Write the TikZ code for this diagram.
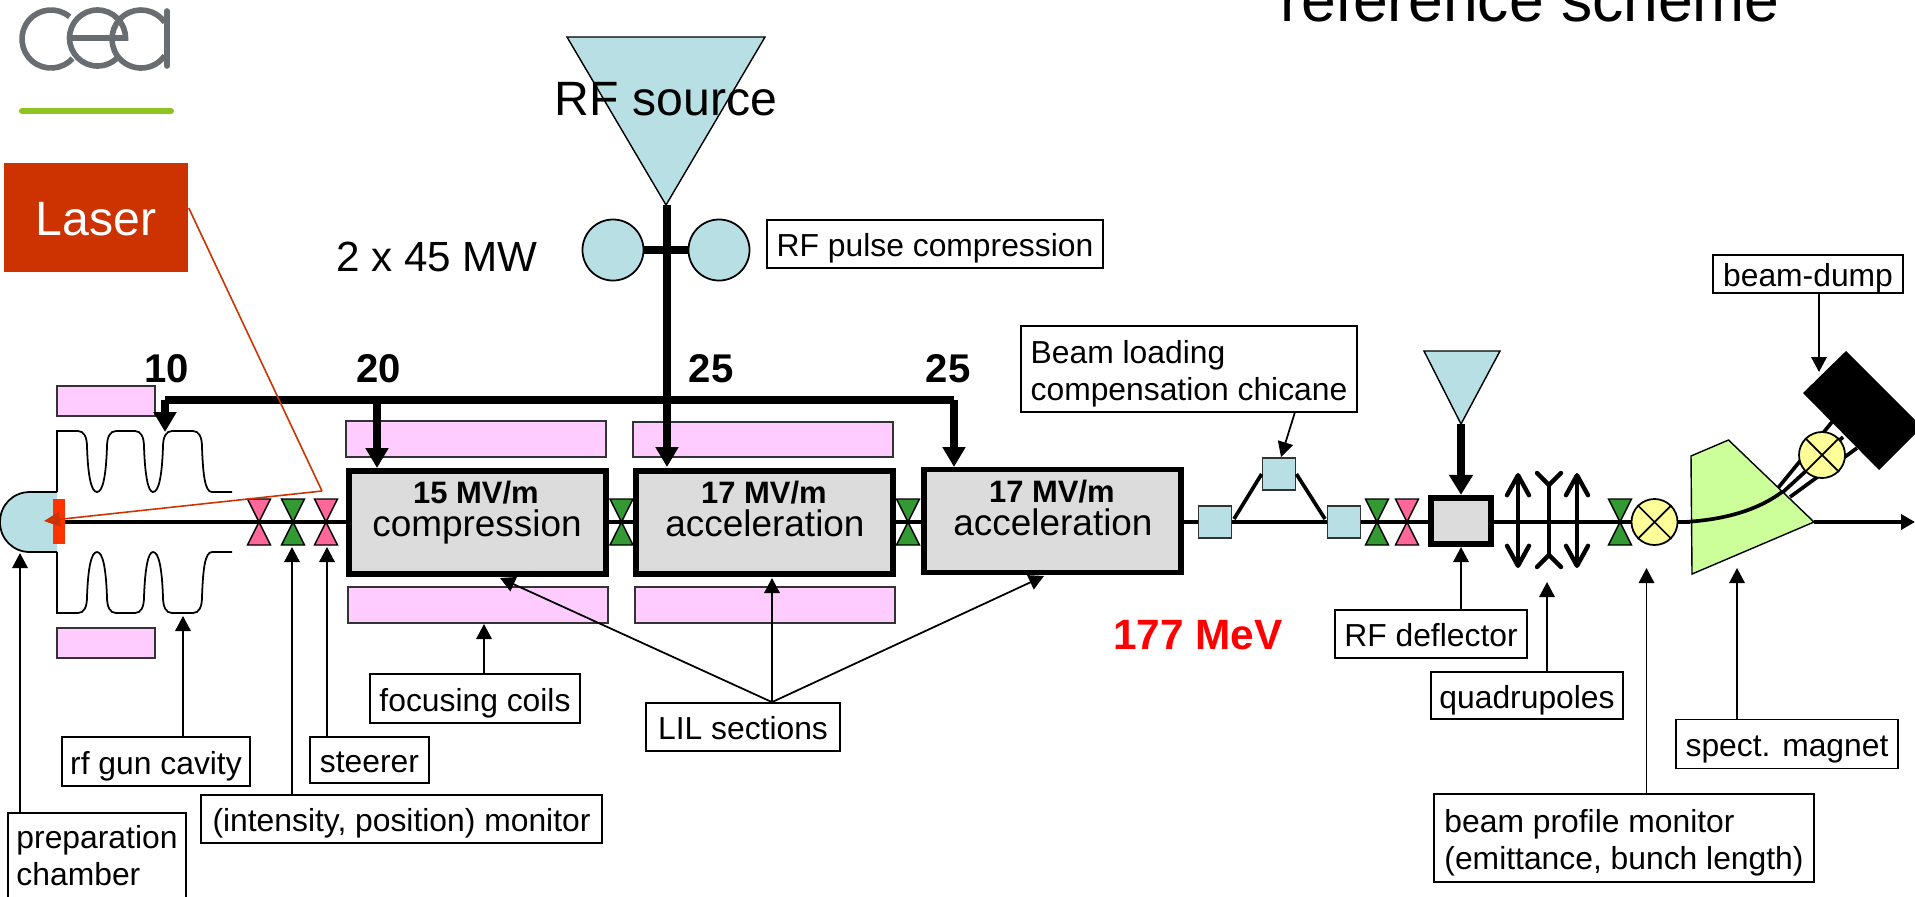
\documentclass[tikz,border=0pt]{standalone}
\usepackage{fontspec}
\setmainfont{Liberation Sans}
\usepackage{tikz}
\usetikzlibrary{arrows.meta}
\definecolor{laserred}{HTML}{CC3300}
\definecolor{cathodered}{HTML}{FF3300}
\definecolor{rfblue}{HTML}{B8DFE3}
\definecolor{coilpink}{HTML}{FFCCFF}
\definecolor{sectiongrey}{HTML}{DCDCDC}
\definecolor{gatepink}{HTML}{FF6699}
\definecolor{gategreen}{HTML}{339933}
\definecolor{magnetgreen}{HTML}{CCFF99}
\definecolor{monitoryellow}{HTML}{FFFF99}
\definecolor{logogrey}{HTML}{686D72}
\definecolor{logogreen}{HTML}{8FC31F}
\tikzset{
	pics/gate/.style={code={\path[draw=black,line width=.4pt,fill=#1] (-11.5,-23) -- (11.5,-23) -- (-11.5,23) -- (11.5,23) -- cycle;}},
	pics/cavitywall/.style={code={\draw[line width=.5pt] (57,-30) -- (57,-91) -- (78,-91)
		.. controls (84,-91) and (87,-85) .. (87,-75) .. controls (88,-47) and (91,-30) .. (97,-30)
		.. controls (103,-30) and (106,-47) .. (107,-75) .. controls (107,-85) and (110,-91) .. (116,-91) -- (135,-91)
		.. controls (141,-91) and (144,-85) .. (144,-75) .. controls (145,-47) and (148,-30) .. (153,-30)
		.. controls (159,-30) and (162,-47) .. (163,-75) .. controls (163,-85) and (166,-91) .. (172,-91) -- (193,-91)
		.. controls (199,-91) and (202,-85) .. (202,-75) .. controls (203,-47) and (205,-30) .. (212,-30) -- (232,-30);}},
	labelbox/.style={draw=black,fill=white,line width=.5pt,inner sep=0pt,align=left,text height=7.3pt,text depth=0pt,font=\fontsize{9.05}{10.5}\selectfont},
	twolines/.style={text height=17.8pt,text depth=0pt},
	coil/.style={draw=black!80,fill=coilpink,line width=.5pt},
	section/.style={draw=black,fill=sectiongrey,line width=1.55pt,inner sep=0pt,minimum width=2.57cm,minimum height=1.03cm},
	sectiongrad/.style={inner sep=0pt,anchor=base,font=\fontsize{8.8}{10}\selectfont\bfseries},
	sectionname/.style={inner sep=0pt,anchor=base,font=\fontsize{10.5}{12}\selectfont},
	bigtext/.style={inner sep=0pt,font=\fontsize{13.7}{15}\selectfont},
	powernum/.style={inner sep=0pt,font=\fontsize{11.4}{13}\selectfont\bfseries},
	monitor/.style={circle,draw=black,fill=monitoryellow,line width=.5pt,minimum size=.46cm,inner sep=0pt},
	chicanebox/.style={draw=black!80,fill=rfblue,line width=.5pt,minimum width=.33cm,minimum height=.32cm,inner sep=0pt}
}
\begin{document}
\begin{tikzpicture}[x=.01cm,y=-.01cm]
		\useasboundingbox (0,0) rectangle (1915,896);

		% logo
		\begin{scope}[y=.01cm,line width=1.6pt]
			\draw[logogrey] (51,-39) ++(50:29) arc (50:318:29);
			\draw[logogrey] (71,-38) -- (125.5,-38) arc (0:318:28);
			\draw[logogrey] (141,-39) ++(35:29) arc (35:325:29);
			\draw[logogrey,line cap=round] (167,-11) -- (167,-66);
			\draw[logogreen,line width=1.7pt,line cap=round] (22,-111) -- (171,-111);
		\end{scope}

		\node[inner sep=0pt,font=\fontsize{17.75}{20}\selectfont,anchor=base] (title) at (1530,21) {reference scheme};

		% beam line
		\coordinate (beamstart) at (62,522);
		\coordinate (beamend) at (1915,522);
		\draw[line width=1.05pt] (beamstart) -- (1690,522);
		\draw[line width=1.05pt,-{Triangle[length=.14cm,width=.15cm]}] (1814,522) -- (beamend);

		% rf gun
		\draw[line width=.5pt,fill=rfblue] (57,492) -- (30,492) .. controls (13,492) and (0,505) .. (0,522) .. controls (0,539) and (13,552) .. (30,552) -- (57,552);
		\pic at (0,522) {cavitywall};
		\pic[yscale=-1] at (0,522) {cavitywall};
		\fill[cathodered] (53,499) rectangle (65,544);

		% focusing coils
		\draw[coil] (57,386) rectangle (155,416);
		\draw[coil] (57,628) rectangle (155,658);
		\draw[coil] (346,421) rectangle (606,457);
		\draw[coil] (348,587) rectangle (608,623);
		\draw[coil] (633,422) rectangle (893,457);
		\draw[coil] (635,587) rectangle (895,623);

		% gates between sections, below the boxes
		\pic at (621.5,522) {gate=gategreen};
		\pic at (908,522) {gate=gategreen};

		% accelerating sections
		\begin{scope}[every node/.style={section}]
			\node (compression) at (477.5,522.5) {};
			\node (accelone) at (764.5,522.5) {};
			\node (acceltwo) at (1052.5,521) {};
		\end{scope}
		\node[sectiongrad] (compressiongrad) at (476,503.5) {15 MV/m};
		\node[sectionname] (compressionname) at (477,536) {compression};
		\node[sectiongrad] (acceloneGrad) at (764,503.5) {17 MV/m};
		\node[sectionname] (acceloneName) at (765,536) {acceleration};
		\node[sectiongrad] (acceltwoGrad) at (1052,502.5) {17 MV/m};
		\node[sectionname] (acceltwoName) at (1053,535) {acceleration};

		% gates
		\pic at (259,522) {gate=gatepink};
		\pic at (293,522) {gate=gategreen};
		\pic at (326,522) {gate=gatepink};
		\pic at (1377,522) {gate=gategreen};
		\pic at (1407,522) {gate=gatepink};
		\pic at (1620,522) {gate=gategreen};

		% chicane
		\begin{scope}[every node/.style={chicanebox}]
			\node (chicaneleft) at (1215,522) {};
			\node (chicanetop) at (1279,474) {};
			\node (chicaneright) at (1344,522) {};
		\end{scope}
		\coordinate (chicanein) at (1234,519);
		\coordinate (chicaneout) at (1325,519);
		\draw[line width=1.05pt] (chicanein) -- (chicanetop.west);
		\draw[line width=1.05pt] (chicanetop.east) -- (chicaneout);

		% rf source and power distribution
		\path[draw=black,line width=.4pt,fill=rfblue] (567,37) -- (765,37) -- (666,205) -- cycle;
		\coordinate (sourcetip) at (667,205);
		\node[bigtext] (source) at (666,99) {RF source};
		\begin{scope}[every node/.style={circle,draw=black,fill=rfblue,line width=.5pt,minimum size=.61cm,inner sep=0pt}]
			\node (pulseleft) at (613,250) {};
			\node (pulseright) at (719,250) {};
		\end{scope}
		\draw[line width=2pt] (pulseleft) -- (pulseright);
		\node[bigtext,font=\fontsize{12}{14}\selectfont] (power) at (437,257) {2 x 45 MW};
		\coordinate (busleft) at (165,400);
		\coordinate (busright) at (954,400);
		\coordinate (tipten) at (165,432);
		\coordinate (tiptwenty) at (377,468);
		\coordinate (tipfeed) at (667,467);
		\coordinate (tiplast) at (954,467);
		\begin{scope}[>={Triangle[black,length=.2cm,width=.22cm]},every edge/.style={draw=black,line width=2pt}]
			\path (sourcetip) edge[->] (tipfeed);
			\path (busleft) edge[->] (tipten);
			\path (busleft -| tiptwenty) edge[->] (tiptwenty);
			\path (busright) edge[->] (tiplast);
		\end{scope}
		\draw[line width=2pt] (busleft) -- (busright);

		\begin{scope}[every node/.style={powernum}]
			\node (numten) at (167,369) {10};
			\node (numtwenty) at (379,369) {20};
			\node (numfeed) at (711,369) {25};
			\node (numlast) at (948,369) {25};
		\end{scope}

		% rf deflector
		\path[draw=black,line width=.4pt,fill=rfblue] (1424,351) -- (1500,351) -- (1461,424) -- cycle;
		\coordinate (deflectortip) at (1461,424);
		\node[draw=black,fill=sectiongrey,line width=1.8pt,minimum width=.6cm,minimum height=.46cm,inner sep=0pt] (deflector) at (1461,521) {};
		\path[>={Triangle[black,length=.2cm,width=.23cm]},every edge/.style={draw=black,line width=2.2pt}] (deflectortip) edge[->] (deflector.north);

		% quadrupoles
		\begin{scope}[>={Straight Barb[black,round,length=.2cm,width=.22cm]},every edge/.style={draw=black,line width=1.25pt}]
			\coordinate (quadonetop) at (1518,473);
			\coordinate (quadonebot) at (1518,568);
			\coordinate (quadtwotop) at (1577,473);
			\coordinate (quadtwobot) at (1577,568);
			\path (quadonetop) edge[<->] (quadonebot);
			\path (quadtwotop) edge[<->] (quadtwobot);
		\end{scope}
		\draw[line width=1.25pt,line cap=round,line join=round] (1537,473) -- (1549,485) -- (1561,473);
		\draw[line width=1.25pt,line cap=round,line join=round] (1537,567) -- (1549,555) -- (1561,567);
		\draw[line width=1.25pt] (1549,485) -- (1549,555);

		% spectrometer
		\path[draw=black,line width=.4pt,fill=magnetgreen] (1691,456) -- (1728.5,440) -- (1814,522) -- (1692,574) -- cycle;
		\path[draw=black,line width=1.05pt] (1684,522) .. controls (1720,520) and (1755,512) .. (1782,492);
		\draw[line width=1.05pt] (1778,488) -- (1832,422);
		\draw[line width=1.05pt] (1783,492) -- (1843,437);
		\draw[line width=1.05pt] (1790,497) -- (1857,448);
		\fill[black] (1846,351) -- (1922,427) -- (1879,470) -- (1803,393) -- cycle;
		\begin{scope}[every node/.style={monitor}]
			\node (profile) at (1654.5,522) {};
			\node (dumpmonitor) at (1822,455) {};
		\end{scope}
		\draw[line width=.5pt] (profile.north west) -- (profile.south east);
		\draw[line width=.5pt] (profile.north east) -- (profile.south west);
		\draw[line width=.5pt] (dumpmonitor.north west) -- (dumpmonitor.south east);
		\draw[line width=.5pt] (dumpmonitor.north east) -- (dumpmonitor.south west);

		% laser
		\node[fill=laserred,text=white,minimum width=1.84cm,minimum height=1.09cm,inner sep=0pt,text height=10pt,text depth=0pt,font=\fontsize{13.7}{15}\selectfont] (laser) at (96,217.5) {Laser};
		\coordinate (laserkink) at (322,491);
		\coordinate (lasertip) at (44,521);
		\draw[laserred,line width=.45pt] (laser.east |- 0,208) -- (laserkink);
		\draw[laserred,line width=.45pt,-{Triangle[length=.16cm,width=.15cm]}] (laserkink) -- (lasertip);

		\node[font=\fontsize{12.05}{14}\selectfont\bfseries,text=red,inner sep=0pt] (energy) at (1198,635) {177 MeV};

		% labels
		\begin{scope}[every node/.style={labelbox}]
			\node[minimum width=3.36cm,minimum height=.48cm] (pulselabel) at (935,244) {RF pulse compression};
			\node[minimum width=1.9cm,minimum height=.38cm] (dumplabel) at (1808,274) {beam-dump};
			\node[twolines,minimum width=3.36cm,minimum height=.86cm] (chicanelabel) at (1189,369) {Beam loading\\compensation chicane};
			\node[minimum width=2.1cm,minimum height=.49cm] (coillabel) at (475,698.5) {focusing coils};
			\node[minimum width=1.94cm,minimum height=.48cm] (lillabel) at (743,727) {LIL sections};
			\node[minimum width=1.88cm,minimum height=.49cm] (gunlabel) at (156,761.5) {rf gun cavity};
			\node[minimum width=1.19cm,minimum height=.46cm] (steererlabel) at (369.5,760) {steerer};
			\node[minimum width=4.01cm,minimum height=.48cm] (monitorlabel) at (401.5,819) {(intensity, position) monitor};
			\node[text height=14.8pt,minimum width=1.78cm,minimum height=.92cm] (chamberlabel) at (97,859) {preparation\\chamber};
			\node[minimum width=1.92cm,minimum height=.48cm] (deflectorlabel) at (1431,634) {RF deflector};
			\node[minimum width=1.92cm,minimum height=.47cm] (quadlabel) at (1527,695.5) {quadrupoles};
			\node[minimum width=2.22cm,minimum height=.49cm] (spectlabel) at (1787,744) {spect. magnet};
			\node[twolines,minimum width=3.8cm,minimum height=.88cm] (profilelabel) at (1624,838) {beam profile monitor\\(emittance, bunch length)};
		\end{scope}

		% label pointers
		\coordinate (ptchamber) at (20,553);
		\coordinate (ptgun) at (183,616);
		\coordinate (ptmonitor) at (292,547);
		\coordinate (ptsteerer) at (327,547);
		\coordinate (ptcoil) at (484,624);
		\coordinate (ptlilone) at (500,578);
		\coordinate (ptliltwo) at (772,578);
		\coordinate (ptlilthree) at (1044,576);
		\coordinate (ptdeflector) at (1461,547);
		\coordinate (ptquad) at (1547,582);
		\coordinate (ptprofile) at (1646.5,568);
		\coordinate (ptspect) at (1737,568);
		\coordinate (ptchicane) at (1281,457);
		\coordinate (ptchicanefoot) at (1295,412);
		\coordinate (ptdump) at (1819,372);
		\begin{scope}[>={Triangle[black,length=.15cm,width=.155cm]},every edge/.style={draw=black,line width=.5pt}]
			\path (chamberlabel.north -| ptchamber) edge[->] (ptchamber);
			\path (gunlabel.north -| ptgun) edge[->] (ptgun);
			\path (monitorlabel.north -| ptmonitor) edge[->] (ptmonitor);
			\path (steererlabel.north -| ptsteerer) edge[->] (ptsteerer);
			\path (coillabel.north -| ptcoil) edge[->] (ptcoil);
			\path (lillabel.north -| ptliltwo) edge[->] (ptlilone);
			\path (lillabel.north -| ptliltwo) edge[->] (ptliltwo);
			\path (lillabel.north -| ptliltwo) edge[->] (ptlilthree);
			\path (deflectorlabel.north -| ptdeflector) edge[->] (ptdeflector);
			\path (quadlabel.north -| ptquad) edge[->] (ptquad);
			\path (profilelabel.north -| ptprofile) edge[->] (ptprofile);
			\path (spectlabel.north -| ptspect) edge[->] (ptspect);
			\path (ptchicanefoot) edge[->] (ptchicane);
			\path (dumplabel.south -| ptdump) edge[->] (ptdump);
		\end{scope}
\end{tikzpicture}
\end{document}
